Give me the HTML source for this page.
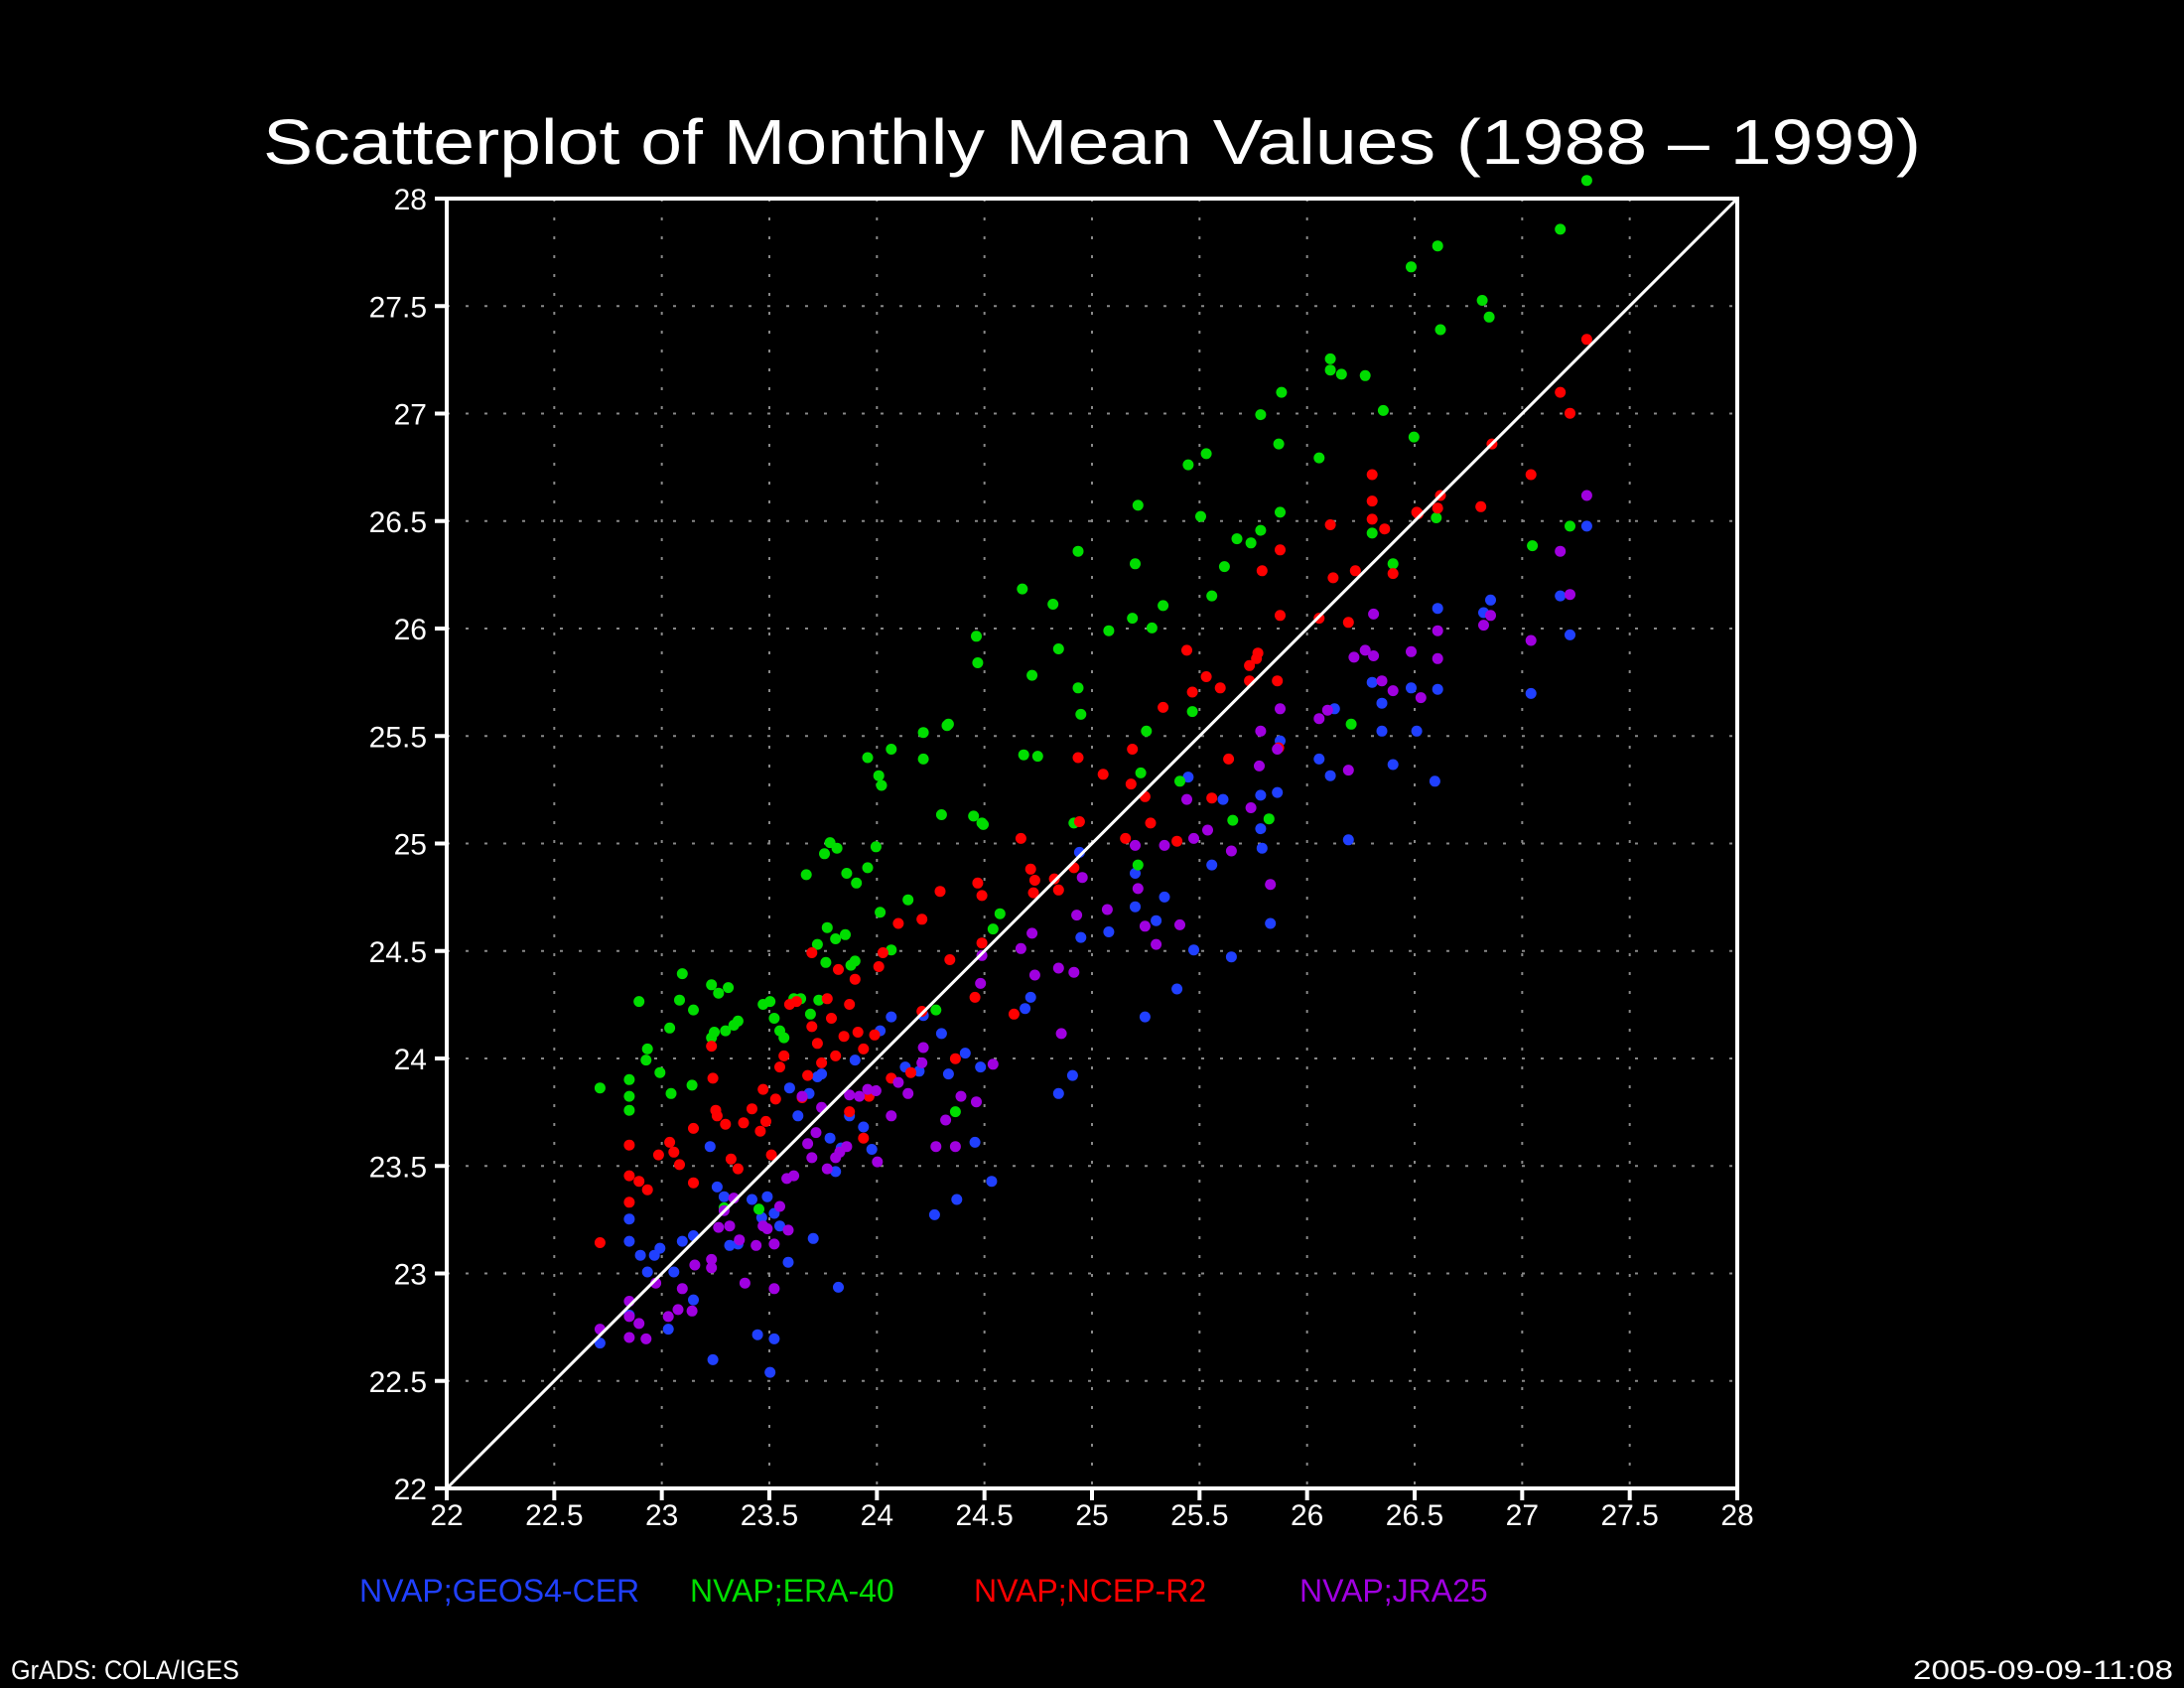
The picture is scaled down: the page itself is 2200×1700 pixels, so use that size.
<!DOCTYPE html>
<html><head><meta charset="utf-8"><style>
html,body{margin:0;padding:0;background:#000;}
svg{display:block}
text{font-family:"Liberation Sans","DejaVu Sans",sans-serif;fill:#fff}
</style></head><body>
<svg id="s" width="2200" height="1700" xmlns="http://www.w3.org/2000/svg">
<rect width="2200" height="1700" fill="#000"/>
<text x="1100" y="165" font-size="64" text-anchor="middle" textLength="1670" lengthAdjust="spacingAndGlyphs">Scatterplot of Monthly Mean Values (1988 – 1999)</text>
<g id="grid" stroke="#888" stroke-width="2" stroke-dasharray="3,16"></g>
<g id="dots"></g>
<line x1="450" y1="1499" x2="1750" y2="200" stroke="#fff" stroke-width="3"/>
<rect x="450" y="200" width="1300" height="1299" fill="none" stroke="#fff" stroke-width="4"/>
<g id="ticks" stroke="#fff" stroke-width="4"></g>
<g id="labels" font-size="30"></g>
<text x="362" y="1613" font-size="32" style="fill:#2040ff">NVAP;GEOS4-CER</text>
<text x="695" y="1613" font-size="32" style="fill:#00dd00">NVAP;ERA-40</text>
<text x="981" y="1613" font-size="32" style="fill:#ff0000">NVAP;NCEP-R2</text>
<text x="1309" y="1613" font-size="32" style="fill:#a000e0">NVAP;JRA25</text>
<text x="11" y="1691" font-size="27" textLength="230" lengthAdjust="spacingAndGlyphs">GrADS: COLA/IGES</text>
<text x="2189" y="1691" font-size="27" text-anchor="end" textLength="262" lengthAdjust="spacingAndGlyphs">2005-09-09-11:08</text>
</svg>
<script>
var NS="http://www.w3.org/2000/svg";
function el(p,t,a,txt){var e=document.createElementNS(NS,t);for(var k in a)e.setAttribute(k,a[k]);if(txt!==undefined)e.textContent=txt;p.appendChild(e);return e;}
var grid=document.getElementById('grid'),ticks=document.getElementById('ticks'),labels=document.getElementById('labels');
for(var i=0;i<=12;i++){
 var x=450+i*1300/12,y=1499-i*1299/12,v=22+i*0.5,s=(v%1==0)?String(v):v.toFixed(1);
 if(i>0&&i<12){el(grid,'line',{x1:x,y1:200,x2:x,y2:1499});el(grid,'line',{x1:450,y1:y,x2:1750,y2:y});}
 el(ticks,'line',{x1:x,y1:1499,x2:x,y2:1511});
 el(ticks,'line',{x1:438,y1:y,x2:450,y2:y});
 el(labels,'text',{x:x,y:1536,'text-anchor':'middle'},s);
 el(labels,'text',{x:430,y:y+11,'text-anchor':'end'},s);
}
var G=[431,780,452,774,452,786,452,796,459,718,464,760,465,752,474,769,481,737,488,717,482,784,490,698,498,724,497,778,511,706,516,712,523,708,511,744,513,740,521,739,527,735,530,732,548,720,553,718,556,730,560,739,563,744,570,716,575,716,582,727,588,717,579,627,592,612,596,604,601,608,608,626,594,665,593,690,600,673,607,670,614,689,615,633,623,543,631,556,633,563,640,537,629,607,632,654,640,681,652,645,663,544,681,519,663,525,676,584,680,520,701,456,702,475,705,590,706,591,713,666,734,422,741,484,745,542,756,433,760,465,774,395,774,493,776,512,796,452,815,404,817,362,813,443,835,434,827,450,853,333,866,325,870,427,879,406,898,389,905,297,905,380,918,318,920,281,919,367,947,328,955,257,955,265,963,268,980,269,993,294,970,519,1013,191,1032,176,1034,236,1064,215,1069,227,1120,164,1139,129,1127,377,1100,391,1031,371,1015,313,985,382,1000,404,771,590,847,560,817,620,856,510,819,554,885,588,911,587,862,370,888,386,718,655,823,524,735,541,699,585,672,724,686,797,587,677,611,692,623,622,520,866,545,867];
var R=[431,891,452,821,452,843,452,862,459,847,465,853,473,828,481,819,484,826,488,835,498,809,498,848,512,773,511,750,515,800,514,796,521,806,525,831,530,838,534,805,540,795,546,811,548,781,550,804,554,828,557,788,560,765,563,757,567,720,572,718,576,787,580,771,583,736,583,683,587,748,590,762,594,716,597,730,600,757,602,695,606,743,610,720,614,702,616,740,620,752,628,742,631,693,634,683,640,773,645,662,654,769,662,725,662,659,675,639,682,688,686,759,702,633,705,676,705,642,733,601,740,623,743,631,757,630,760,638,771,622,774,543,775,589,792,555,813,537,812,562,822,571,826,590,835,507,852,466,856,496,866,485,876,493,882,544,897,477,902,472,906,409,917,488,919,394,919,441,947,443,957,414,955,376,968,446,973,409,985,372,985,359,985,340,994,379,1000,411,1017,367,1032,364,1034,355,1063,363,1071,318,1099,340,1120,281,1127,296,1139,243,1018,368,897,488,903,468,918,536,808,601,870,572,845,603,700,715,728,727,742,640,610,797,620,816,624,786];
var B=[431,963,452,874,452,890,452,943,460,900,465,912,470,900,474,895,480,953,484,912,490,890,498,932,498,886,512,975,510,822,515,851,520,858,524,893,530,892,540,860,544,957,547,873,551,858,553,984,556,960,556,870,560,879,566,905,567,780,573,800,581,784,584,888,587,772,590,770,596,816,600,840,604,823,602,923,610,800,614,760,620,808,626,824,632,739,640,729,650,765,660,768,663,728,671,871,676,741,681,770,687,860,693,755,700,819,704,765,712,847,736,723,740,715,760,784,770,771,775,611,776,672,796,668,815,626,815,650,822,729,830,660,836,643,845,709,853,557,857,681,870,620,878,573,884,686,905,570,905,594,906,608,912,662,917,568,919,531,947,544,955,556,958,508,968,602,985,489,992,504,992,524,1000,548,1013,493,1017,524,1030,560,1032,436,1032,494,1065,439,1070,430,1099,497,1120,427,1127,455,1139,377];
var P=[431,953,452,933,452,959,452,944,459,949,464,960,471,920,480,944,487,939,490,924,497,940,499,907,511,903,511,909,516,880,520,868,524,879,527,859,531,889,535,920,543,893,548,879,551,881,556,924,556,892,560,865,565,845,566,882,570,843,576,786,580,820,583,830,586,812,590,794,594,838,600,830,603,826,608,822,610,785,617,786,623,781,629,782,630,833,640,800,645,776,652,784,662,762,663,751,672,822,679,803,686,822,690,786,701,790,704,705,705,685,713,763,733,680,741,669,743,699,760,694,762,741,771,697,773,656,777,629,795,652,815,606,817,637,822,664,830,677,836,606,847,663,852,573,857,601,867,595,884,610,898,579,905,524,904,549,912,634,917,537,919,508,947,515,953,509,968,552,972,471,980,466,986,470,986,440,992,488,1000,495,1013,467,1020,500,1032,452,1032,472,1065,448,1070,441,1099,459,1120,395,1127,426,1139,355];
var dots=document.getElementById('dots');
function draw(a,c){for(var i=0;i<a.length;i+=2){el(dots,'circle',{cx:((a[i]-321)*1.4039+450).toFixed(1),cy:((a[i+1]-142)*1.4039+200).toFixed(1),r:5.5,fill:c});}}
draw(B,'#2040ff');draw(G,'#00dd00');draw(R,'#ff0000');draw(P,'#a000e0');
</script>
</body></html>
